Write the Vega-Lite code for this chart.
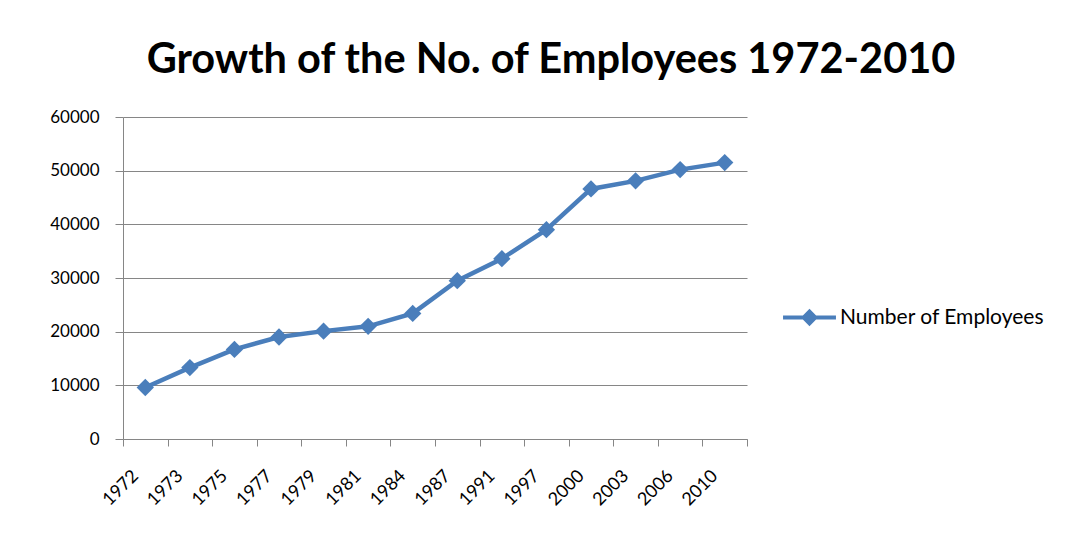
{
  "$schema": "https://vega.github.io/schema/vega-lite/v6.json",
  "width": 624,
  "height": 322,
  "autosize": "none",
  "padding": {"left": 123, "top": 117, "right": 331, "bottom": 102},
  "background": "white",
  "title": {
    "text": "Growth of the No. of Employees 1972-2010",
    "font": "Lato",
    "fontSize": 41.5,
    "fontWeight": "bold",
    "color": "black",
    "anchor": "middle",
    "dx": 116,
    "offset": 27
  },
  "config": {
    "view": {"stroke": null},
    "font": "Lato"
  },
  "data": {
    "values": [
      {"year": "1972", "employees": 9600},
      {"year": "1973", "employees": 13300},
      {"year": "1975", "employees": 16700},
      {"year": "1977", "employees": 19000},
      {"year": "1979", "employees": 20100},
      {"year": "1981", "employees": 21000},
      {"year": "1984", "employees": 23400},
      {"year": "1987", "employees": 29500},
      {"year": "1991", "employees": 33600},
      {"year": "1997", "employees": 39000},
      {"year": "2000", "employees": 46600},
      {"year": "2003", "employees": 48100},
      {"year": "2006", "employees": 50200},
      {"year": "2010", "employees": 51500}
    ]
  },
  "mark": {
    "type": "line",
    "strokeWidth": 4.5,
    "point": {"shape": "diamond", "size": 300, "filled": true, "opacity": 1}
  },
  "encoding": {
    "x": {
      "field": "year",
      "type": "ordinal",
      "sort": null,
      "scale": {"paddingInner": 0, "paddingOuter": 0},
      "axis": {
        "title": null,
        "tickBand": "extent",
        "labelAngle": -45,
        "labelAlign": "right",
        "labelBaseline": "middle",
        "labelFontSize": 18,
        "labelColor": "black",
        "labelPadding": 27,
        "labelOffset": -10,
        "tickSize": 7,
        "tickColor": "#868686",
        "domainColor": "#868686",
        "grid": false
      }
    },
    "y": {
      "field": "employees",
      "type": "quantitative",
      "scale": {"domain": [0, 60000], "nice": false},
      "axis": {
        "title": null,
        "values": [0, 10000, 20000, 30000, 40000, 50000, 60000],
        "format": "d",
        "labelFontSize": 17,
        "labelColor": "black",
        "labelPadding": 16,
        "tickSize": 8,
        "tickColor": "#868686",
        "domainColor": "#868686",
        "gridColor": "#868686",
        "gridOpacity": 1
      }
    },
    "color": {
      "datum": "Number of Employees",
      "type": "nominal",
      "scale": {"range": ["#4A7EBB"]},
      "legend": {
        "title": null,
        "orient": "none",
        "legendX": 660,
        "legendY": 174,
        "symbolType": "M-1,-0.08L-0.25,-0.08L0,-0.33L0.25,-0.08L1,-0.08L1,0.08L0.25,0.08L0,0.33L-0.25,0.08L-1,0.08Z",
        "symbolSize": 2800,
        "symbolFillColor": "#4A7EBB",
        "symbolStrokeWidth": 0,
        "labelFontSize": 21,
        "labelLimit": 0,
        "labelColor": "black",
        "labelOffset": 4
      }
    }
  }
}
